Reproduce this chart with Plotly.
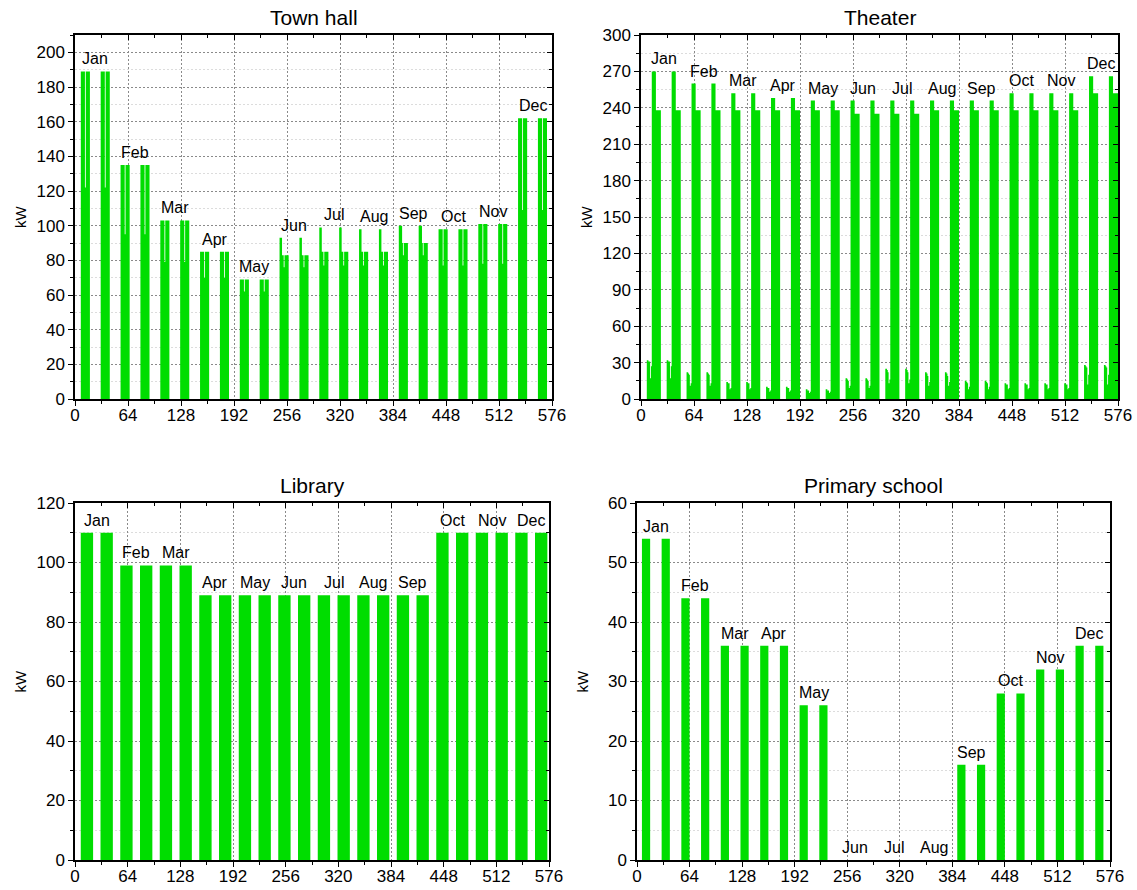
import plotly.graph_objects as go

# ---------------------------------------------------------------------------
# Hourly load profiles (kW) of a representative day for every month.
# Each month is drawn as two identical consecutive days (48 h per month).
# ---------------------------------------------------------------------------
MONTHS = ["Jan", "Feb", "Mar", "Apr", "May", "Jun",
          "Jul", "Aug", "Sep", "Oct", "Nov", "Dec"]

TOWN_HALL = {
    "Jan": [0, 0, 0, 0, 0, 0, 0, 189, 189, 189, 189, 189, 122, 189, 189, 189, 189, 189, 0, 0, 0, 0, 0, 0],
    "Feb": [0, 0, 0, 0, 0, 0, 0, 135, 135, 135, 135, 135, 95, 135, 135, 135, 135, 135, 0, 0, 0, 0, 0, 0],
    "Mar": [0, 0, 0, 0, 0, 0, 0, 103, 103, 103, 103, 103, 79, 103, 103, 103, 103, 103, 0, 0, 0, 0, 0, 0],
    "Apr": [0, 0, 0, 0, 0, 0, 0, 85, 85, 85, 85, 85, 70, 85, 85, 85, 85, 85, 0, 0, 0, 0, 0, 0],
    "May": [0, 0, 0, 0, 0, 0, 0, 69, 69, 69, 69, 69, 62, 69, 69, 69, 69, 69, 0, 0, 0, 0, 0, 0],
    "Jun": [0, 0, 0, 0, 0, 0, 0, 93, 93, 93, 83, 83, 76, 83, 83, 83, 83, 83, 0, 0, 0, 0, 0, 0],
    "Jul": [0, 0, 0, 0, 0, 0, 0, 99, 99, 99, 85, 85, 77, 85, 85, 85, 85, 85, 0, 0, 0, 0, 0, 0],
    "Aug": [0, 0, 0, 0, 0, 0, 0, 98, 98, 98, 85, 85, 77, 85, 85, 85, 85, 85, 0, 0, 0, 0, 0, 0],
    "Sep": [0, 0, 0, 0, 0, 0, 0, 100, 100, 100, 100, 90, 83, 90, 90, 90, 90, 90, 0, 0, 0, 0, 0, 0],
    "Oct": [0, 0, 0, 0, 0, 0, 0, 98, 98, 98, 98, 98, 77, 98, 98, 98, 98, 98, 0, 0, 0, 0, 0, 0],
    "Nov": [0, 0, 0, 0, 0, 0, 0, 101, 101, 101, 101, 101, 78, 101, 101, 101, 101, 101, 0, 0, 0, 0, 0, 0],
    "Dec": [0, 0, 0, 0, 0, 0, 0, 162, 162, 162, 162, 162, 109, 162, 162, 162, 162, 162, 0, 0, 0, 0, 0, 0],
}

THEATER = {
    "Jan": [0, 0, 0, 0, 0, 0, 0, 32, 32, 31, 31, 17, 27, 270, 270, 270, 270, 270, 238, 238, 238, 238, 238, 238],
    "Feb": [0, 0, 0, 0, 0, 0, 0, 22, 22, 21, 20, 11, 13, 260, 260, 260, 260, 260, 238, 238, 238, 238, 238, 238],
    "Mar": [0, 0, 0, 0, 0, 0, 0, 14, 14, 13, 13, 8, 9, 252, 252, 252, 252, 252, 238, 238, 238, 238, 238, 238],
    "Apr": [0, 0, 0, 0, 0, 0, 0, 10, 10, 9, 9, 6, 7, 248, 248, 248, 248, 248, 238, 238, 238, 238, 238, 238],
    "May": [0, 0, 0, 0, 0, 0, 0, 8, 8, 7, 7, 5, 6, 246, 246, 246, 246, 246, 238, 238, 238, 238, 238, 238],
    "Jun": [0, 0, 0, 0, 0, 0, 0, 17, 17, 16, 15, 9, 11, 246, 246, 246, 246, 246, 235, 235, 235, 235, 235, 235],
    "Jul": [0, 0, 0, 0, 0, 0, 0, 25, 25, 24, 22, 13, 16, 246, 246, 246, 246, 246, 235, 235, 235, 235, 235, 235],
    "Aug": [0, 0, 0, 0, 0, 0, 0, 22, 22, 21, 19, 11, 14, 246, 246, 246, 246, 246, 238, 238, 238, 238, 238, 238],
    "Sep": [0, 0, 0, 0, 0, 0, 0, 15, 15, 14, 13, 8, 10, 246, 246, 246, 246, 246, 238, 238, 238, 238, 238, 238],
    "Oct": [0, 0, 0, 0, 0, 0, 0, 13, 13, 12, 12, 8, 9, 252, 252, 252, 252, 252, 238, 238, 238, 238, 238, 238],
    "Nov": [0, 0, 0, 0, 0, 0, 0, 13, 13, 12, 12, 8, 9, 252, 252, 252, 252, 252, 238, 238, 238, 238, 238, 238],
    "Dec": [0, 0, 0, 0, 0, 0, 0, 28, 28, 27, 26, 12, 20, 266, 266, 266, 266, 266, 252, 252, 252, 252, 252, 252],
}

LIBRARY = {
    "Jan": [0, 0, 0, 0, 0, 0, 0, 110, 110, 110, 110, 110, 110, 110, 110, 110, 110, 110, 110, 110, 110, 110, 0, 0],
    "Feb": [0, 0, 0, 0, 0, 0, 0, 99, 99, 99, 99, 99, 99, 99, 99, 99, 99, 99, 99, 99, 99, 99, 0, 0],
    "Mar": [0, 0, 0, 0, 0, 0, 0, 99, 99, 99, 99, 99, 99, 99, 99, 99, 99, 99, 99, 99, 99, 99, 0, 0],
    "Apr": [0, 0, 0, 0, 0, 0, 0, 89, 89, 89, 89, 89, 89, 89, 89, 89, 89, 89, 89, 89, 89, 89, 0, 0],
    "May": [0, 0, 0, 0, 0, 0, 0, 89, 89, 89, 89, 89, 89, 89, 89, 89, 89, 89, 89, 89, 89, 89, 0, 0],
    "Jun": [0, 0, 0, 0, 0, 0, 0, 89, 89, 89, 89, 89, 89, 89, 89, 89, 89, 89, 89, 89, 89, 89, 0, 0],
    "Jul": [0, 0, 0, 0, 0, 0, 0, 89, 89, 89, 89, 89, 89, 89, 89, 89, 89, 89, 89, 89, 89, 89, 0, 0],
    "Aug": [0, 0, 0, 0, 0, 0, 0, 89, 89, 89, 89, 89, 89, 89, 89, 89, 89, 89, 89, 89, 89, 89, 0, 0],
    "Sep": [0, 0, 0, 0, 0, 0, 0, 89, 89, 89, 89, 89, 89, 89, 89, 89, 89, 89, 89, 89, 89, 89, 0, 0],
    "Oct": [0, 0, 0, 0, 0, 0, 0, 110, 110, 110, 110, 110, 110, 110, 110, 110, 110, 110, 110, 110, 110, 110, 0, 0],
    "Nov": [0, 0, 0, 0, 0, 0, 0, 110, 110, 110, 110, 110, 110, 110, 110, 110, 110, 110, 110, 110, 110, 110, 0, 0],
    "Dec": [0, 0, 0, 0, 0, 0, 0, 110, 110, 110, 110, 110, 110, 110, 110, 110, 110, 110, 110, 110, 110, 110, 0, 0],
}

PRIMARY_SCHOOL = {
    "Jan": [0, 0, 0, 0, 0, 0, 54, 54, 54, 54, 54, 54, 54, 54, 54, 54, 0, 0, 0, 0, 0, 0, 0, 0],
    "Feb": [0, 0, 0, 0, 0, 0, 44, 44, 44, 44, 44, 44, 44, 44, 44, 44, 0, 0, 0, 0, 0, 0, 0, 0],
    "Mar": [0, 0, 0, 0, 0, 0, 36, 36, 36, 36, 36, 36, 36, 36, 36, 36, 0, 0, 0, 0, 0, 0, 0, 0],
    "Apr": [0, 0, 0, 0, 0, 0, 36, 36, 36, 36, 36, 36, 36, 36, 36, 36, 0, 0, 0, 0, 0, 0, 0, 0],
    "May": [0, 0, 0, 0, 0, 0, 26, 26, 26, 26, 26, 26, 26, 26, 26, 26, 0, 0, 0, 0, 0, 0, 0, 0],
    "Jun": [0, 0, 0, 0, 0, 0, 0, 0, 0, 0, 0, 0, 0, 0, 0, 0, 0, 0, 0, 0, 0, 0, 0, 0],
    "Jul": [0, 0, 0, 0, 0, 0, 0, 0, 0, 0, 0, 0, 0, 0, 0, 0, 0, 0, 0, 0, 0, 0, 0, 0],
    "Aug": [0, 0, 0, 0, 0, 0, 0, 0, 0, 0, 0, 0, 0, 0, 0, 0, 0, 0, 0, 0, 0, 0, 0, 0],
    "Sep": [0, 0, 0, 0, 0, 0, 16, 16, 16, 16, 16, 16, 16, 16, 16, 16, 0, 0, 0, 0, 0, 0, 0, 0],
    "Oct": [0, 0, 0, 0, 0, 0, 28, 28, 28, 28, 28, 28, 28, 28, 28, 28, 0, 0, 0, 0, 0, 0, 0, 0],
    "Nov": [0, 0, 0, 0, 0, 0, 32, 32, 32, 32, 32, 32, 32, 32, 32, 32, 0, 0, 0, 0, 0, 0, 0, 0],
    "Dec": [0, 0, 0, 0, 0, 0, 36, 36, 36, 36, 36, 36, 36, 36, 36, 36, 0, 0, 0, 0, 0, 0, 0, 0],
}

X_TICKS = [0, 64, 128, 192, 256, 320, 384, 448, 512, 576]
DAYS_PER_MONTH = 2
HOURS = 24

GREEN = "rgb(0,221,0)"
FONT = "Liberation Sans, Arial, sans-serif"
W, H = 1137, 890

# title, profiles, y max, major step, plot box in pixels (left, top, right, bottom)
PANELS = [
    ("Town hall", TOWN_HALL, 210, 20, (75, 35, 552, 399)),
    ("Theater", THEATER, 300, 30, (641, 35, 1118, 399)),
    ("Library", LIBRARY, 120, 20, (75, 503, 549, 860)),
    ("Primary school", PRIMARY_SCHOOL, 60, 10, (637, 503, 1110, 860)),
]


def year_series(profiles):
    vals = []
    for m in MONTHS:
        vals += profiles[m] * DAYS_PER_MONTH
    return vals


fig = go.Figure()
layout = dict(
    template="none",
    width=W, height=H,
    margin=dict(l=0, r=0, t=0, b=0, autoexpand=False),
    paper_bgcolor="white", plot_bgcolor="white",
    showlegend=False,
    font=dict(family=FONT, color="black", size=17),
)
annotations = []

span = len(MONTHS) * DAYS_PER_MONTH * HOURS

for i, (title, prof, ymax, ystep, box) in enumerate(PANELS, start=1):
    left, top, right, bottom = box
    xd = [left / W, right / W]
    yd = [1 - bottom / H, 1 - top / H]
    xa, ya = f"x{i}" if i > 1 else "x", f"y{i}" if i > 1 else "y"
    xa_top, ya_right = f"x{i + 4}", f"y{i + 4}"

    vals = year_series(prof)
    xs = list(range(span + 1))
    ys = vals + [vals[-1]]
    fig.add_trace(go.Scatter(
        x=xs, y=ys, xaxis=xa, yaxis=ya,
        mode="lines", line=dict(width=0, shape="hv", color=GREEN),
        fill="tozeroy", fillcolor=GREEN, hoverinfo="skip",
    ))
    # invisible traces so the mirrored top / right axes get drawn
    fig.add_trace(go.Scatter(x=[None], y=[None], xaxis=xa_top, yaxis=ya, hoverinfo="skip"))
    fig.add_trace(go.Scatter(x=[None], y=[None], xaxis=xa, yaxis=ya_right, hoverinfo="skip"))

    xkey = "xaxis" if i == 1 else f"xaxis{i}"
    ykey = "yaxis" if i == 1 else f"yaxis{i}"

    common = dict(
        showline=True, linecolor="black", linewidth=1.5,
        zeroline=False, fixedrange=True, automargin=False,
        tickwidth=1, tickcolor="black", ticklen=5,
    )
    layout[xkey] = dict(
        domain=xd, anchor=ya, range=[0, span], tickvals=X_TICKS,
        ticks="outside", ticklabelstandoff=-5,
        minor=dict(dtick=32, tick0=0, ticks="outside", ticklen=3, tickcolor="black", showgrid=False),
        showgrid=True, gridcolor="#8a8a8a", gridwidth=1, griddash="2px,2px",
        tickfont=dict(size=17), **common,
    )
    layout[ykey] = dict(
        domain=yd, anchor=xa, range=[0, ymax], tick0=0, dtick=ystep,
        ticks="outside",
        minor=dict(dtick=ystep / 2, tick0=0, ticks="outside", ticklen=3, tickcolor="black",
                   showgrid=True, gridcolor="#dcdcdc", gridwidth=1, griddash="2px,2px"),
        showgrid=True, gridcolor="#8a8a8a", gridwidth=1, griddash="2px,2px",
        tickfont=dict(size=17), **common,
    )
    layout[f"xaxis{i + 4}"] = dict(
        overlaying=xa, anchor=ya, side="top", range=[0, span], tickvals=X_TICKS,
        ticks="inside",
        minor=dict(dtick=32, tick0=0, ticks="inside", ticklen=3, tickcolor="black"),
        showgrid=False, showticklabels=False, **common,
    )
    layout[f"yaxis{i + 4}"] = dict(
        overlaying=ya, anchor=xa, side="right", range=[0, ymax], tick0=0, dtick=ystep,
        ticks="inside",
        minor=dict(dtick=ystep / 2, tick0=0, ticks="inside", ticklen=3, tickcolor="black"),
        showgrid=False, showticklabels=False, **common,
    )

    # panel title
    annotations.append(dict(
        text=title, xref="paper", yref="paper",
        x=(xd[0] + xd[1]) / 2, y=yd[1] + 17 / H,
        xanchor="center", yanchor="middle", showarrow=False,
        font=dict(size=21, family=FONT, color="black"),
    ))
    # y-axis unit
    annotations.append(dict(
        text="kW", xref="paper", yref="paper",
        x=(left - 55) / W, y=(yd[0] + yd[1]) / 2,
        xanchor="center", yanchor="middle", textangle=-90, showarrow=False,
        font=dict(size=15, family=FONT, color="black"),
    ))
    # month labels above each pair of days
    block = DAYS_PER_MONTH * HOURS
    for m, name in enumerate(MONTHS):
        seg = vals[m * block:(m + 1) * block]
        on = [k for k, v in enumerate(seg) if v > 0]
        if on:
            cx = m * block + (on[0] + on[-1] + 1) / 2
        else:
            cx = m * block + block / 2 + 1.5
        annotations.append(dict(
            text=name, xref=xa, yref=ya, x=cx, y=max(seg),
            xanchor="center", yanchor="bottom", showarrow=False, yshift=2,
            font=dict(size=16, family=FONT, color="black"),
        ))

layout["annotations"] = annotations
fig.update_layout(**layout)
fig.write_html("out.html")
